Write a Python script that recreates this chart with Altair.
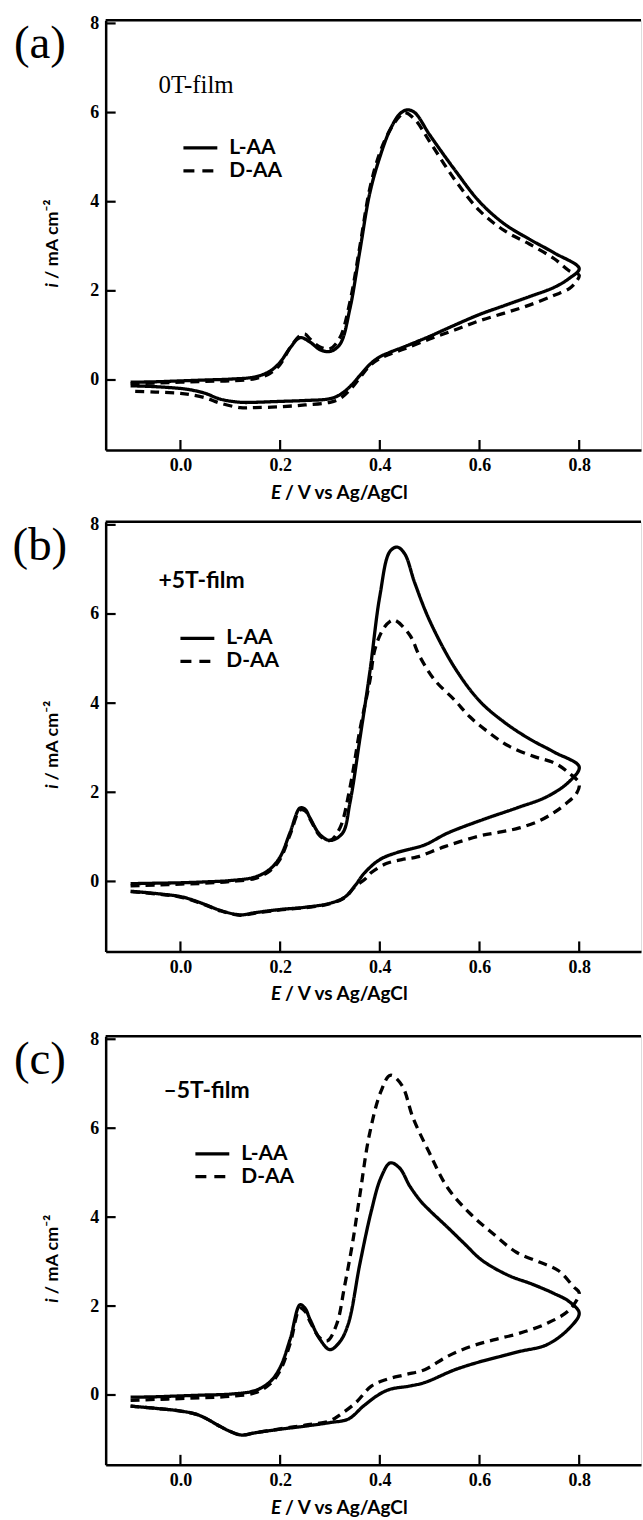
import altair as alt
import pandas as pd

# ---------------- data ----------------
# Panel (a) 0T-film
A_L_E = [-0.10, -0.05, 0.00, 0.05, 0.10, 0.15, 0.18, 0.20, 0.22, 0.24, 0.26, 0.28, 0.30, 0.32, 0.34, 0.36,
         0.38, 0.40, 0.42, 0.44, 0.455, 0.47, 0.50, 0.55, 0.60, 0.65, 0.70, 0.75, 0.80,
         0.78, 0.75, 0.70, 0.65, 0.60, 0.55, 0.50, 0.45, 0.42, 0.40, 0.38, 0.36, 0.34, 0.32, 0.30,
         0.25, 0.20, 0.15, 0.12, 0.08, 0.05, 0.02, 0.00, -0.05, -0.10]
A_L_I = [-0.05, -0.04, -0.02, 0.00, 0.02, 0.07, 0.20, 0.40, 0.72, 0.95, 0.85, 0.68, 0.64, 0.80, 1.60, 2.90,
         4.20, 5.00, 5.60, 5.97, 6.06, 6.00, 5.50, 4.72, 4.00, 3.50, 3.16, 2.85, 2.50,
         2.28, 2.08, 1.87, 1.67, 1.47, 1.23, 0.98, 0.75, 0.62, 0.52, 0.35, 0.10, -0.15, -0.33, -0.42,
         -0.46, -0.48, -0.50, -0.50, -0.43, -0.30, -0.22, -0.19, -0.15, -0.13]
A_D_E = [-0.10, -0.05, 0.00, 0.05, 0.10, 0.15, 0.18, 0.20, 0.22, 0.24, 0.25, 0.26, 0.28, 0.30, 0.32, 0.34,
         0.36, 0.38, 0.40, 0.42, 0.44, 0.45, 0.47, 0.50, 0.55, 0.60, 0.65, 0.70, 0.75, 0.78, 0.80,
         0.795, 0.78, 0.75, 0.70, 0.65, 0.60, 0.55, 0.50, 0.45, 0.42, 0.40, 0.38, 0.36, 0.34, 0.32, 0.30,
         0.25, 0.20, 0.15, 0.12, 0.08, 0.05, 0.02, 0.00, -0.05, -0.10]
A_D_I = [-0.08, -0.07, -0.05, -0.03, -0.02, 0.03, 0.15, 0.35, 0.72, 1.00, 1.03, 0.92, 0.74, 0.70, 0.95, 1.75,
         3.00, 4.30, 5.10, 5.60, 5.92, 6.00, 5.85, 5.35, 4.50, 3.80, 3.35, 3.05, 2.72, 2.45, 2.35,
         2.22, 2.05, 1.90, 1.68, 1.50, 1.33, 1.12, 0.92, 0.70, 0.58, 0.48, 0.32, 0.05, -0.22, -0.42, -0.50,
         -0.56, -0.60, -0.62, -0.62, -0.52, -0.40, -0.33, -0.30, -0.27, -0.25]

# Panel (b) +5T-film
B_L_E = [-0.10, -0.05, 0.00, 0.05, 0.10, 0.15, 0.18, 0.20, 0.22, 0.24, 0.25, 0.26, 0.28, 0.30, 0.325, 0.34,
         0.36, 0.38, 0.40, 0.42, 0.435, 0.45, 0.47, 0.50, 0.55, 0.60, 0.65, 0.70, 0.75, 0.80,
         0.78, 0.735, 0.675, 0.605, 0.535, 0.49, 0.435, 0.40, 0.37, 0.35, 0.33, 0.30, 0.25, 0.20,
         0.15, 0.12, 0.08, 0.05, 0.02, 0.00, -0.05, -0.10]
B_L_I = [-0.05, -0.04, -0.03, -0.01, 0.02, 0.10, 0.28, 0.55, 1.10, 1.65, 1.62, 1.42, 1.05, 0.92, 1.08, 1.76,
         3.20, 4.70, 6.40, 7.40, 7.50, 7.35, 6.70, 5.85, 4.80, 4.05, 3.57, 3.20, 2.90, 2.57,
         2.24, 1.90, 1.65, 1.38, 1.08, 0.82, 0.65, 0.49, 0.20, -0.10, -0.35, -0.49, -0.58, -0.63,
         -0.70, -0.75, -0.65, -0.52, -0.40, -0.34, -0.27, -0.22]
B_D_E = [-0.10, -0.05, 0.00, 0.05, 0.10, 0.15, 0.18, 0.20, 0.22, 0.24, 0.25, 0.26, 0.28, 0.30, 0.32, 0.34,
         0.36, 0.38, 0.39, 0.406, 0.42, 0.43, 0.46, 0.48, 0.51, 0.55, 0.58, 0.62, 0.66, 0.71, 0.75, 0.78,
         0.80, 0.795, 0.773, 0.75, 0.72, 0.68, 0.643, 0.60, 0.53, 0.475, 0.444, 0.413, 0.383, 0.37, 0.35,
         0.33, 0.30, 0.25, 0.20, 0.15, 0.12, 0.08, 0.05, 0.02, 0.00, -0.05, -0.10]
B_D_I = [-0.10, -0.08, -0.06, -0.04, 0.00, 0.07, 0.24, 0.50, 1.05, 1.60, 1.58, 1.40, 1.02, 0.92, 1.20, 2.10,
         3.40, 4.50, 5.20, 5.65, 5.83, 5.86, 5.53, 5.05, 4.52, 4.07, 3.70, 3.33, 3.03, 2.80, 2.66, 2.43,
         2.20, 1.98, 1.74, 1.55, 1.36, 1.20, 1.11, 1.02, 0.78, 0.55, 0.49, 0.40, 0.20, 0.05, -0.12,
         -0.36, -0.50, -0.59, -0.64, -0.71, -0.76, -0.66, -0.53, -0.41, -0.35, -0.28, -0.23]

# Panel (c) -5T-film
C_L_E = [-0.10, -0.05, 0.00, 0.05, 0.10, 0.15, 0.18, 0.20, 0.22, 0.24, 0.25, 0.26, 0.28, 0.30, 0.32, 0.337,
         0.36, 0.383, 0.402, 0.421, 0.44, 0.46, 0.482, 0.50, 0.536, 0.57, 0.605, 0.658, 0.704, 0.75, 0.78, 0.80,
         0.78, 0.735, 0.681, 0.643, 0.605, 0.551, 0.49, 0.459, 0.421, 0.398, 0.367, 0.337, 0.30, 0.25,
         0.20, 0.15, 0.122, 0.10, 0.077, 0.05, 0.031, 0.00, -0.05, -0.10]
C_L_I = [-0.05, -0.04, -0.02, 0.00, 0.02, 0.10, 0.30, 0.62, 1.25, 2.03, 1.95, 1.70, 1.25, 1.02, 1.20, 1.61,
         2.95, 4.14, 4.88, 5.22, 5.10, 4.70, 4.36, 4.15, 3.77, 3.40, 3.03, 2.69, 2.50, 2.28, 2.10, 1.84,
         1.50, 1.13, 0.98, 0.87, 0.76, 0.57, 0.28, 0.20, 0.13, 0.01, -0.25, -0.54, -0.62, -0.70,
         -0.77, -0.85, -0.90, -0.82, -0.69, -0.52, -0.43, -0.36, -0.30, -0.25]
C_D_E = [-0.10, -0.05, 0.00, 0.05, 0.10, 0.15, 0.18, 0.20, 0.22, 0.24, 0.25, 0.26, 0.28, 0.295, 0.314, 0.329,
         0.345, 0.36, 0.379, 0.402, 0.421, 0.444, 0.467, 0.498, 0.536, 0.582, 0.628, 0.674, 0.72, 0.758, 0.789, 0.80,
         0.78, 0.735, 0.681, 0.628, 0.582, 0.536, 0.49, 0.452, 0.413, 0.383, 0.352, 0.322, 0.30, 0.25,
         0.20, 0.15, 0.122, 0.10, 0.077, 0.05, 0.031, 0.00, -0.05, -0.10]
C_D_I = [-0.12, -0.10, -0.08, -0.06, -0.03, 0.05, 0.25, 0.55, 1.15, 1.95, 1.88, 1.65, 1.28, 1.22, 1.61, 2.43,
         3.40, 4.50, 5.85, 6.82, 7.19, 6.97, 6.22, 5.48, 4.66, 4.07, 3.62, 3.21, 2.99, 2.80, 2.43, 2.30,
         1.91, 1.61, 1.39, 1.24, 1.09, 0.87, 0.57, 0.46, 0.35, 0.20, -0.17, -0.43, -0.58, -0.68,
         -0.76, -0.85, -0.90, -0.82, -0.69, -0.52, -0.43, -0.36, -0.30, -0.25]

X_TICKS = [0.0, 0.2, 0.4, 0.6, 0.8]
Y_TICKS = [0, 2, 4, 6, 8]
SERIES = ["L-AA", "D-AA"]
PANEL_TAGS = ["(a)", "(b)", "(c)"]
FILM_LABELS = ["0T-film", "+5T-film", "\u20135T-film"]
X_TITLE = ["E", "/ V vs Ag/AgCl"]
Y_TITLE = ["i", "/ mA cm\u207b\u00b2"]

# ---------------- layout ----------------
W = 537
X_DOM = [-0.15, -0.15 + W / 500.0]
Y_DOM = [-1.57, 8.07]
BOTTOM_ROOM = 55


def curve_df(E, I, name):
    return pd.DataFrame({"E": E, "i": I, "series": name, "idx": list(range(len(E)))})


def one():
    return pd.DataFrame({"k": [0]})


def text_layer(txt, x, y, font, size, weight="normal", style="normal", align="left", angle=0):
    return alt.Chart(one()).mark_text(
        text=txt, font=font, fontSize=size, fontWeight=weight, fontStyle=style,
        align=align, baseline="middle", color="black", angle=angle
    ).encode(x=alt.value(x), y=alt.value(y))


def panel(L_E, L_I, D_E, D_I, tag, film, film_font, film_weight, film_size, film_xy, leg_x, leg_y, H, top_room):
    df = pd.concat([curve_df(L_E, L_I, "L-AA"), curve_df(D_E, D_I, "D-AA")], ignore_index=True)
    xs = alt.Scale(domain=X_DOM, nice=False, zero=False)
    ys = alt.Scale(domain=Y_DOM, nice=False, zero=False)
    xax = alt.Axis(values=X_TICKS, format=".1f", ticks=False, tickSize=0, grid=False,
                   domainColor="black", domainWidth=2.5, labelFont="Liberation Serif",
                   labelFontWeight="bold", labelFontSize=18, labelColor="black",
                   labelPadding=7, title=None, labelFlush=False)
    yax = alt.Axis(values=Y_TICKS, format="d", ticks=False, tickSize=0, grid=False,
                   domainColor="black", domainWidth=2.5, labelFont="Liberation Serif",
                   labelFontWeight="bold", labelFontSize=18, labelColor="black",
                   labelPadding=7, title=None, labelFlush=False)
    X = alt.X("E:Q", scale=xs, axis=xax)
    Y = alt.Y("i:Q", scale=ys, axis=yax)

    lines = alt.Chart(df).mark_line(
        interpolate="catmull-rom", strokeWidth=3.3, color="black", clip=True
    ).encode(
        x=X, y=Y,
        strokeDash=alt.StrokeDash("series:N", scale=alt.Scale(domain=SERIES, range=[[1, 0], [9, 6]]),
                                  legend=None),
        order="idx:Q", detail="series:N",
    )
    xt = alt.Chart(pd.DataFrame({"E": X_TICKS})).mark_rule(color="black", strokeWidth=2.2).encode(
        x=X, y=alt.value(H), y2=alt.value(H - 10))
    yt = alt.Chart(pd.DataFrame({"i": Y_TICKS})).mark_rule(color="black", strokeWidth=2.2).encode(
        y=Y, x=alt.value(0), x2=alt.value(10))
    top = alt.Chart(one()).mark_rule(color="black", strokeWidth=2.5).encode(
        x=alt.value(0), x2=alt.value(W), y=alt.value(0))

    leg_l = alt.Chart(one()).mark_rule(color="black", strokeWidth=3.3).encode(
        x=alt.value(leg_x), x2=alt.value(leg_x + 34), y=alt.value(leg_y))
    leg_d = alt.Chart(one()).mark_rule(color="black", strokeWidth=3.3, strokeDash=[11, 8]).encode(
        x=alt.value(leg_x), x2=alt.value(leg_x + 34), y=alt.value(leg_y + 23))

    # invisible frame that fixes each panel's outer box (spacing between panels)
    frame = alt.Chart(one()).mark_rule(opacity=0, strokeWidth=0.01).encode(
        x=alt.value(-105), y=alt.value(-top_room), y2=alt.value(H + BOTTOM_ROOM))

    layers = [lines, xt, yt, top, leg_l, leg_d, frame,
              text_layer("L-AA", leg_x + 46, leg_y, "Lato", 21, "bold"),
              text_layer("D-AA", leg_x + 46, leg_y + 23, "Lato", 21, "bold"),
              text_layer(film, film_xy[0], film_xy[1], film_font, film_size, film_weight),
              text_layer(tag, -66, 24, "Liberation Serif", 47, "normal", align="center"),
              text_layer(X_TITLE[0], 176, H + 43, "Lato", 19, "bold", "italic", align="right"),
              text_layer(X_TITLE[1], 180, H + 43, "Lato", 19, "bold", align="left"),
              text_layer(Y_TITLE[0], -53, H / 2 + 48, "Lato", 18, "bold", "italic", align="right", angle=270),
              text_layer(Y_TITLE[1], -53, H / 2 + 44, "Lato", 18, "bold", align="left", angle=270),
              ]
    return alt.layer(*layers).properties(width=W, height=H)


pa = panel(A_L_E, A_L_I, A_D_E, A_D_I, PANEL_TAGS[0], FILM_LABELS[0], "Liberation Serif", "normal", 25,
           (53, 65), 78, 128, 431, 17)
pb = panel(B_L_E, B_L_I, B_D_E, B_D_I, PANEL_TAGS[1], FILM_LABELS[1], "Lato", "bold", 23,
           (53, 59), 75, 117, 431, 15)
pc = panel(C_L_E, C_L_I, C_D_E, C_D_I, PANEL_TAGS[2], FILM_LABELS[2], "Lato", "bold", 23,
           (58, 55), 90, 118, 430, 28)

chart = alt.vconcat(pa, pb, pc, spacing=0).properties(
    padding={"left": 0, "top": 0, "right": 0, "bottom": 0}
).configure_view(stroke=None).configure(background="white")

chart.save("out.html", embed_options={"renderer": "svg", "actions": False})
